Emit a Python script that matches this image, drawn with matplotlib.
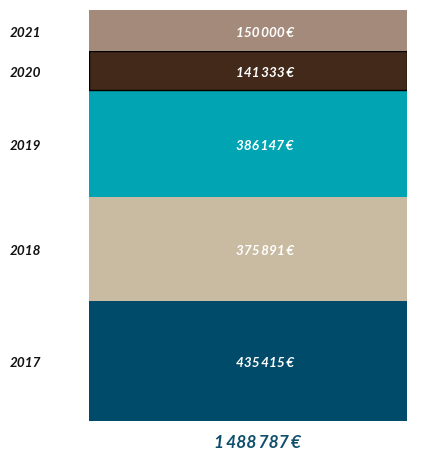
import matplotlib
matplotlib.use("Agg")
import matplotlib.pyplot as plt
from matplotlib.transforms import ScaledTranslation, blended_transform_factory

plt.rcParams["font.family"] = ["Lato", "DejaVu Sans"]

years = ["2017", "2018", "2019", "2020", "2021"]
values = [435415, 375891, 386147, 141333, 150000]
total_shown = 1488787
colors = ["#004B6A", "#C9BBA1", "#00A4B3", "#42291A", "#A38A7B"]
edges = [None, None, None, "black", None]

THIN = "\u2009"


def euro(v):
    return f"{v:,}".replace(",", THIN) + THIN + "€"


W, H = 437, 451
fig = plt.figure(figsize=(W / 100, H / 100), dpi=100)
ax = fig.add_axes([89 / W, (H - 421) / H, 318 / W, 411 / H])
ax.axis("off")

# nudge labels a couple of pixels down
down = ScaledTranslation(0, -2 / 100, fig.dpi_scale_trans)
t_val = blended_transform_factory(ax.transAxes, ax.transData) + down
t_year = blended_transform_factory(fig.transFigure, ax.transData) + down

bottom = 0
for y, v, c, e in zip(years, values, colors, edges):
    ax.bar(0, v, width=1, bottom=bottom, color=c,
           edgecolor=e if e else c, linewidth=1.0 if e else 0)
    mid = bottom + v / 2
    ax.text(0.553, mid, euro(v), transform=t_val,
            ha="center", va="center", color="white", fontsize=9.7,
            fontweight="bold", style="italic")
    ax.text(10 / W, mid, y, transform=t_year,
            ha="left", va="center", color="#111111", fontsize=9.7,
            fontweight="bold", style="italic")
    bottom += v

ax.set_xlim(-0.5, 0.5)
ax.set_ylim(0, bottom)

fig.text(258 / W, 1 - 443 / H, euro(total_shown), ha="center", va="center",
         color="#0F4F6C", fontsize=12.5, fontweight="bold", style="italic")

fig.savefig("out.png", dpi=100, facecolor="white")
